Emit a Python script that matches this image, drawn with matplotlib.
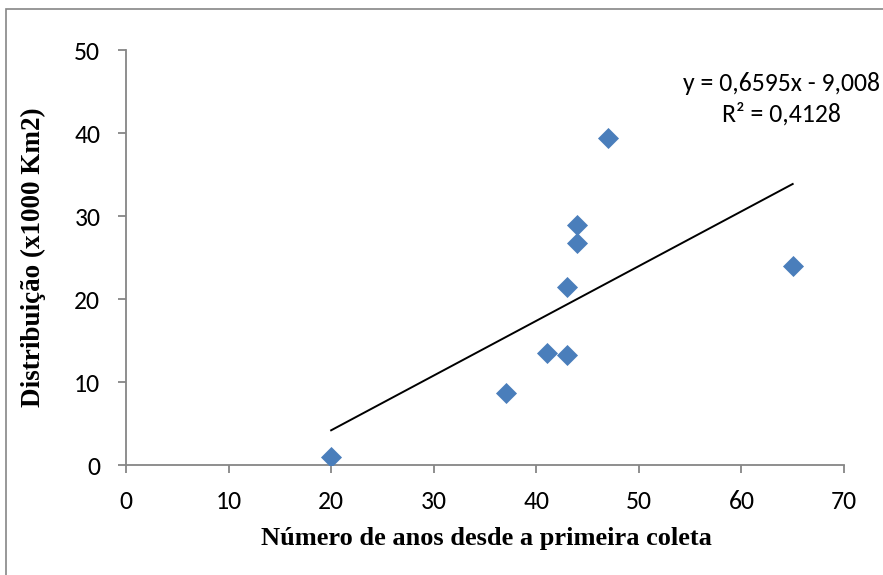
import numpy as np
import matplotlib.pyplot as plt
from matplotlib.patches import Rectangle

# anos desde a primeira coleta x distribuição (x1000 km2)
anos = [20, 37, 41, 43, 43, 44, 44, 47, 65]
distribuicao = [1.0, 8.7, 13.5, 13.2, 21.5, 26.7, 28.9, 39.4, 24.0]
# linha de tendência (valores do próprio gráfico)
inclinacao = 0.6595
intercepto = -9.008
eq_txt = "y = 0,6595x - 9,008"
r2_txt = "R² = 0,4128"

tick_font = ['Carlito', 'DejaVu Sans']
label_font = ['Liberation Serif', 'DejaVu Serif']
grey = '#868686'

fig = plt.figure(figsize=(8.83, 5.75), dpi=100)
ax = fig.add_axes([0.1427, 0.1913, 0.8131, 0.7217])

ax.scatter(anos, distribuicao, marker='D', s=115, color='#4a7ebb', zorder=3, linewidths=0)

xs = np.array([min(anos), max(anos)])
ax.plot(xs, inclinacao * xs + intercepto, color='black', lw=1.4, zorder=2)

ax.set_xlim(0, 70)
ax.set_ylim(0, 50)
ax.set_xticks(range(0, 71, 10))
ax.set_yticks(range(0, 51, 10))
for s in ['top', 'right']:
    ax.spines[s].set_visible(False)
for s in ['left', 'bottom']:
    ax.spines[s].set_color(grey)
    ax.spines[s].set_linewidth(1.3)
ax.tick_params(direction='out', length=6, width=1.3, color=grey, labelsize=18.5)
ax.tick_params(axis='x', pad=12)
ax.tick_params(axis='y', pad=12.5)
for lab in ax.get_xticklabels() + ax.get_yticklabels():
    lab.set_family(tick_font)

ax.set_xlabel('Número de anos desde a primeira coleta', family=label_font,
              fontweight='bold', fontsize=19)
ax.set_ylabel('Distribuição (x1000 Km2)', family=label_font,
              fontweight='bold', fontsize=19.5)
ax.xaxis.set_label_coords(0.502, -0.149)
ax.yaxis.set_label_coords(-0.112, 0.5)

fig.text(0.8853, 0.8423, eq_txt, family=tick_font, fontsize=18.5, ha='center', va='baseline')
fig.text(0.8853, 0.7883, r2_txt, family=tick_font, fontsize=18.5, ha='center', va='baseline')

fig.patches.append(Rectangle((0.007, -0.01), 1.0, 0.995, transform=fig.transFigure,
                             fill=False, edgecolor=grey, lw=1.2))

fig.savefig('out.png', dpi=100)
